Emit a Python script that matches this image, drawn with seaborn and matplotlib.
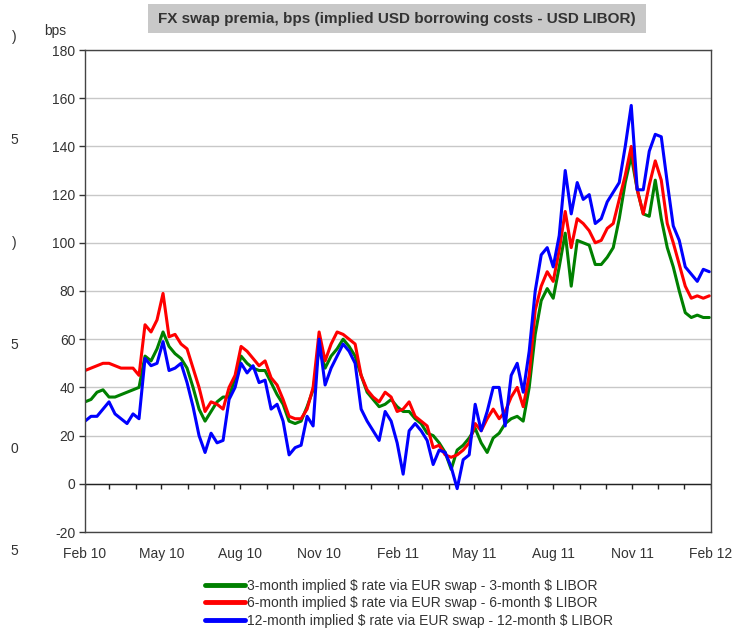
import pandas as pd
import numpy as np
import matplotlib
matplotlib.use("Agg")
import matplotlib.pyplot as plt
import matplotlib.dates as mdates
from matplotlib.patches import Rectangle
import seaborn as sns

# weekly readings, Feb 2010 - Jan 2012 (bps)
dates = pd.date_range("2010-02-01", periods=105, freq="7D")

swap_3m = [34, 35, 38, 39, 36, 36, 37, 38, 39, 40,
           53, 51, 56, 63, 57, 54, 52, 48, 40, 31,
           26, 30, 34, 36, 36, 44, 53, 50, 48, 47,
           47, 42, 37, 33, 26, 25, 26, 32, 39, 56,
           48, 53, 56, 60, 57, 53, 45, 38, 35, 32,
           33, 35, 32, 30, 30, 27, 25, 21, 20, 17,
           13, 6, 14, 16, 19, 23, 17, 13, 19, 21,
           25, 27, 28, 26, 40, 62, 76, 81, 77, 90,
           104, 82, 101, 100, 99, 91, 91, 94, 98, 110,
           125, 136, 122, 112, 111, 126, 110, 98, 90, 80,
           71, 69, 70, 69, 69]

swap_6m = [47, 48, 49, 50, 50, 49, 48, 48, 48, 45,
           66, 63, 68, 79, 61, 62, 58, 56, 48, 40,
           30, 34, 33, 31, 40, 45, 57, 55, 52, 49,
           51, 44, 41, 35, 28, 27, 27, 31, 40, 63,
           51, 58, 63, 62, 60, 58, 45, 39, 36, 34,
           38, 36, 30, 31, 34, 28, 26, 24, 15, 16,
           12, 11, 12, 14, 17, 25, 22, 27, 31, 27,
           30, 36, 40, 32, 45, 72, 82, 88, 84, 97,
           113, 98, 110, 108, 105, 100, 101, 106, 108, 118,
           128, 140, 122, 112, 124, 134, 126, 108, 100, 91,
           82, 77, 78, 77, 78]

swap_12m = [26, 28, 28, 31, 34, 29, 27, 25, 29, 27,
            52, 49, 50, 59, 47, 48, 50, 42, 32, 20,
            13, 21, 17, 18, 35, 40, 50, 46, 49, 42,
            43, 31, 33, 26, 12, 15, 16, 28, 24, 60,
            41, 48, 53, 58, 55, 50, 31, 26, 22, 18,
            30, 26, 17, 4, 22, 25, 22, 18, 8, 14,
            13, 7, -2, 10, 12, 33, 22, 30, 40, 40,
            24, 45, 50, 38, 55, 80, 95, 98, 90, 103,
            130, 112, 125, 118, 120, 108, 110, 117, 121, 125,
            140, 157, 122, 122, 138, 145, 144, 125, 107, 101,
            90, 87, 84, 89, 88]

labels = [r"3-month implied \$ rate via EUR swap - 3-month \$ LIBOR",
          r"6-month implied \$ rate via EUR swap - 6-month \$ LIBOR",
          r"12-month implied \$ rate via EUR swap - 12-month \$ LIBOR"]
colors = ["#008000", "#ff0000", "#0000ff"]

sns.set_style("white")
plt.rcParams["font.family"] = ["Liberation Sans", "DejaVu Sans"]
plt.rcParams["axes.unicode_minus"] = False

fig = plt.figure(figsize=(7.4, 6.28), dpi=100)
ax = fig.add_axes([85 / 740, 1 - 532 / 628, 626 / 740, 482 / 628])

for vals, lab, col in zip([swap_3m, swap_6m, swap_12m], labels, colors):
    sns.lineplot(x=dates, y=vals, ax=ax, color=col, lw=2.2, label=lab)

ax.set_ylim(-20, 180)
ax.set_yticks(range(-20, 181, 20))
ax.set_xlim(pd.Timestamp("2010-02-01"), pd.Timestamp("2012-02-01"))
ax.grid(axis="y", color="#c8c8c8", lw=1)
ax.set_axisbelow(True)

# category axis crosses at zero, with monthly tick marks
ax.axhline(0, color="#222222", lw=1, zorder=1.5)
months = pd.date_range("2010-02-01", "2012-02-01", freq="MS")
ax.vlines(months, -2.2, 0, color="#222222", lw=1)

ax.xaxis.set_major_locator(mdates.MonthLocator(bymonth=[2, 5, 8, 11]))
ax.xaxis.set_major_formatter(mdates.DateFormatter("%b %y"))
ax.tick_params(axis="x", length=0, pad=11, labelsize=10, labelcolor="#333333")
ax.tick_params(axis="y", left=True, length=4, width=1, color="#333333",
               labelsize=10, labelcolor="#333333", pad=3)
for s in ax.spines.values():
    s.set_color("#444444")
    s.set_linewidth(1)
ax.set_xlabel("")
ax.set_ylabel("")
ax.get_legend().remove()

# title in grey box
fig.patches.append(Rectangle((148 / 740, 1 - 33 / 628), 498 / 740, 29 / 628,
                             transform=fig.transFigure, facecolor="#c8c8c8",
                             edgecolor="none"))
fig.text(397 / 740, 1 - 19 / 628,
         "FX swap premia, bps (implied USD borrowing costs - USD LIBOR)",
         ha="center", va="center", fontsize=11, fontweight="bold", color="#333333")
fig.text(55 / 740, 1 - 31 / 628, "bps", ha="center", va="center",
         fontsize=10, color="#333333")

# stray digits cut off at the left edge
for ypx, t in [(37, ")"), (140, "5"), (243, ")"), (345, "5"), (449, "0"), (551, "5")]:
    fig.text(14 / 740, 1 - ypx / 628, t, ha="center", va="center",
             fontsize=10, color="#333333")

handles, labs = ax.get_legend_handles_labels()
leg = fig.legend(handles, labs, loc="upper left",
                 bbox_to_anchor=(205 / 740, 1 - 579 / 628), frameon=False,
                 fontsize=10, handlelength=2.9, handletextpad=0.15,
                 labelspacing=0.24, borderaxespad=0, borderpad=0)
for line in leg.get_lines():
    line.set_linewidth(3.5)
for t in leg.get_texts():
    t.set_color("#333333")

fig.savefig("out.png", dpi=100)
